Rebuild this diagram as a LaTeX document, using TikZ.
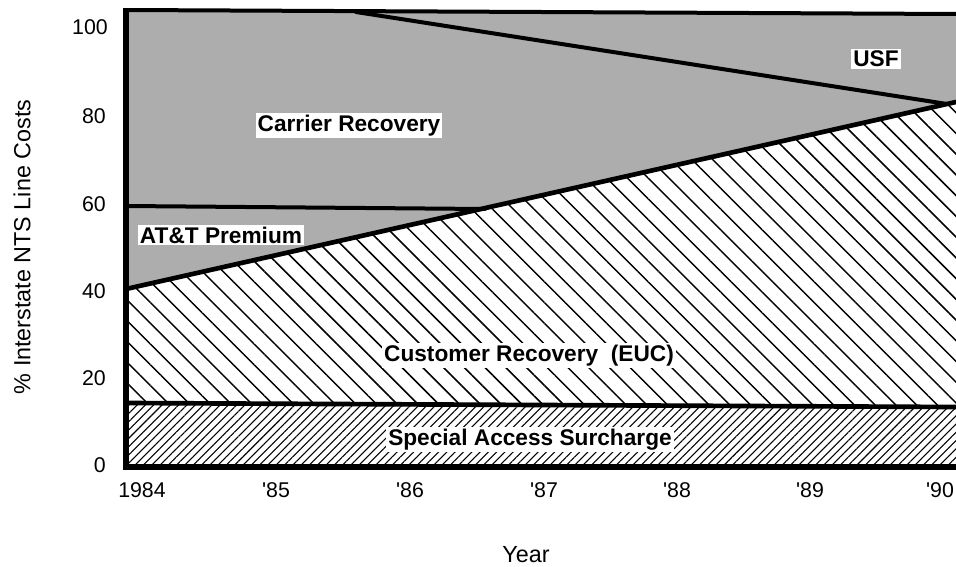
\documentclass[tikz,border=0pt]{standalone}
\usepackage{fontspec}
\setmainfont{Liberation Sans}
\usetikzlibrary{patterns.meta}
\tikzset{
  px/.style={x=0.75pt,y=-0.75pt},
  halftone/.style={fill=black!32},
  eucfill/.style={preaction={fill=white},pattern={Lines[angle=-45,distance=11pt,line width=1.1pt]},pattern color=black},
  safill/.style={preaction={fill=white},pattern={Lines[angle=45,distance=4.4pt,line width=0.8pt]},pattern color=black},
  boundary/.style={line width=3pt,line cap=round},
  axisline/.style={line width=4.5pt},
  region/.style={fill=white,inner sep=1.5pt,font=\bfseries\fontsize{17}{20}\selectfont,anchor=base},
  ytick/.style={anchor=base east,inner sep=0pt,font=\fontsize{16}{19}\selectfont},
  xtick/.style={anchor=base,inner sep=0pt,font=\fontsize{16}{19}\selectfont},
  axtitle/.style={inner sep=0pt,font=\fontsize{17.5}{20}\selectfont}
}
\begin{document}
\begin{tikzpicture}[px]
\useasboundingbox (0,0) rectangle (956,567);
% plot area (grey halftone)
\coordinate (tl) at (126,10);
\coordinate (tr) at (956,14);
\coordinate (bl) at (126,467);
\coordinate (br) at (956,467);
\coordinate (euc0) at (126,289);
\coordinate (apex) at (947,104);
\coordinate (euc1) at (956,102);
\coordinate (sa0) at (126,403);
\coordinate (sa1) at (956,407);
\coordinate (usf0) at (356,12);
\coordinate (att0) at (126,206);
\coordinate (att1) at (485,209);
\fill[halftone] (tl) -- (tr) -- (br) -- (bl) -- cycle;
% Customer recovery (EUC)
\fill[eucfill] (euc0) -- (apex) -- (euc1) -- (sa1) -- (sa0) -- cycle;
% Special access surcharge
\fill[safill] (sa0) -- (sa1) -- (br) -- (bl) -- cycle;
% boundaries
\draw[boundary] (tl) -- (tr);
\draw[boundary] (usf0) -- (apex);
\draw[boundary] (att0) -- (att1);
\draw[boundary,line width=3.5pt] (euc0) -- (apex) -- (euc1);
\draw[boundary,line width=3.5pt] (sa0) -- (sa1);
\draw[axisline] (126,8) -- (126,470);
\draw[axisline] (123,467) -- (956,467);
% region labels
\node[region] (carrier) at (349,131) {Carrier Recovery};
\node[region] (usf) at (876,67) {USF};
\node[region] (att) at (221,243) {AT\&T Premium};
\node[region] (euc) at (529,361) {Customer Recovery\ \ (EUC)};
\node[region] (sa) at (530,445) {Special Access Surcharge};
% y ticks
\node[ytick] (y100) at (108,35) {100};
\node[ytick] (y80) at (106,123) {80};
\node[ytick] (y60) at (106,211) {60};
\node[ytick] (y40) at (106,298) {40};
\node[ytick] (y20) at (106,385) {20};
\node[ytick] (y0) at (106,472) {0};
% x ticks
\node[xtick] (x84) at (142,497) {1984};
\node[xtick] (x85) at (276,497) {\textquotesingle 85};
\node[xtick] (x86) at (410,497) {\textquotesingle 86};
\node[xtick] (x87) at (544,497) {\textquotesingle 87};
\node[xtick] (x88) at (677,497) {\textquotesingle 88};
\node[xtick] (x89) at (810,497) {\textquotesingle 89};
\node[xtick] (x90) at (940,497) {\textquotesingle 90};
% axis titles
\node[axtitle,rotate=90] (ytitle) at (22,247) {\% Interstate NTS Line Costs};
\node[axtitle,anchor=base] (xtitle) at (526,562) {Year};
\end{tikzpicture}
\end{document}
